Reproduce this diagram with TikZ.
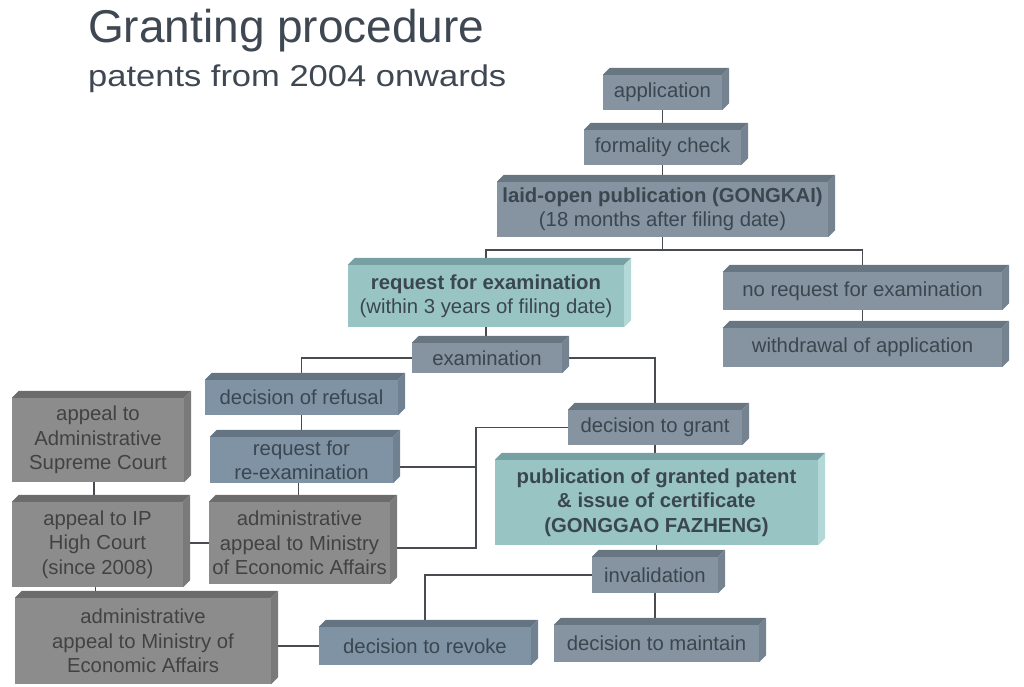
\documentclass[tikz,border=0pt]{standalone}
\usepackage{fontspec}
\setmainfont{Liberation Sans}
\usetikzlibrary{backgrounds}
\definecolor{bluefront}{RGB}{133,148,160}
\definecolor{bluetop}{RGB}{104,118,129}
\definecolor{blueside}{RGB}{116,131,143}
\definecolor{bbfront}{RGB}{128,147,165}
\definecolor{bbtop}{RGB}{100,116,131}
\definecolor{bbside}{RGB}{112,129,145}
\definecolor{tealfront}{RGB}{153,196,196}
\definecolor{tealtop}{RGB}{118,160,162}
\definecolor{tealside}{RGB}{178,216,216}
\definecolor{greyfront}{RGB}{140,140,140}
\definecolor{greytop}{RGB}{108,108,108}
\definecolor{greyside}{RGB}{122,122,122}
\definecolor{bluetext}{RGB}{58,70,80}
\definecolor{greytext}{RGB}{66,66,66}
\definecolor{titletext}{RGB}{62,71,82}
\definecolor{linecol}{RGB}{72,76,80}
\newcommand\boxfaces[2]{%
  \fill[#2top] (#1.north west) -- ++(7,-7) -- ([shift={(7,-7)}]#1.north east) -- (#1.north east) -- cycle;
  \fill[#2side] (#1.north east) -- ++(7,-7) -- ([shift={(7,-7)}]#1.south east) -- (#1.south east) -- cycle;
}
\tikzset{
  stepbox/.style={fill=#1front, inner sep=0pt, align=center, text=bluetext,
    font=\fontsize{20.3}{24.5}\selectfont},
  conn/.style={draw=linecol, line width=1.8pt},
}
\begin{document}
\begin{tikzpicture}[x=1pt,y=-1pt]
\useasboundingbox (0,0) rectangle (1024,687);
% title
\node[anchor=base west, inner sep=0pt, text=titletext, font=\fontsize{46}{50}\selectfont] (title) at (88,43) {Granting procedure};
\node[anchor=base west, inner sep=0pt, text=titletext, font=\fontsize{30}{34}\selectfont] (subtitle) at (88,87) {\scalebox{1.15}[1]{patents from 2004 onwards}};
% boxes
\node[stepbox=blue, minimum width=119, minimum height=35] (app) at (662.5,92.5) {application};
\node[stepbox=blue, minimum width=157, minimum height=35] (form) at (662.5,147.5) {formality check};
\node[stepbox=blue, minimum width=331, minimum height=55] (laid) at (662.5,209.5) {\textbf{laid-open publication (GONGKAI)}\\(18 months after filing date)};
\node[stepbox=teal, minimum width=276, minimum height=62] (req) at (486,296) {\textbf{request for examination}\\(within 3 years of filing date)};
\node[stepbox=blue, minimum width=150, minimum height=30] (exam) at (487,358) {examination};
\node[stepbox=blue, minimum width=279, minimum height=38] (norq) at (862.5,291) {no request for examination};
\node[stepbox=blue, minimum width=279, minimum height=39] (withd) at (862.5,347.5) {withdrawal of application};
\node[stepbox=bb, minimum width=193, minimum height=35] (refusal) at (301.5,397.5) {decision of refusal};
\node[stepbox=bb, minimum width=183, minimum height=46] (reexam) at (301.5,460) {request for\\re-examination};
\node[stepbox=grey, text=greytext, minimum width=181, minimum height=82] (adm1) at (299.5,543) {administrative\\appeal to Ministry\\of Economic Affairs};
\node[stepbox=grey, text=greytext, minimum width=172, minimum height=84] (supreme) at (98,440) {appeal to\\Administrative\\Supreme Court};
\node[stepbox=grey, text=greytext, minimum width=171, minimum height=85] (ipcourt) at (97.5,544.5) {appeal to IP\\High Court\\(since 2008)};
\node[stepbox=grey, text=greytext, minimum width=256, minimum height=86] (adm2) at (143,641) {administrative\\appeal to Ministry of\\Economic Affairs};
\node[stepbox=bb, minimum width=212, minimum height=38] (revoke) at (425,646) {decision to revoke};
\node[stepbox=blue, minimum width=174, minimum height=35] (grant) at (655,427.5) {decision to grant};
\node[stepbox=teal, minimum width=323, minimum height=85] (pub) at (656.5,502.5) {\textbf{publication of granted patent}\\\textbf{\& issue of certificate}\\\textbf{(GONGGAO FAZHENG)}};
\node[stepbox=blue, minimum width=126, minimum height=36] (inval) at (655,575) {invalidation};
\node[stepbox=blue, minimum width=205, minimum height=37] (maintain) at (656.5,643.5) {decision to maintain};
% 3D faces
\boxfaces{app}{blue}
\boxfaces{form}{blue}
\boxfaces{laid}{blue}
\boxfaces{req}{teal}
\boxfaces{exam}{blue}
\boxfaces{norq}{blue}
\boxfaces{withd}{blue}
\boxfaces{refusal}{bb}
\boxfaces{reexam}{bb}
\boxfaces{adm1}{grey}
\boxfaces{supreme}{grey}
\boxfaces{ipcourt}{grey}
\boxfaces{adm2}{grey}
\boxfaces{revoke}{bb}
\boxfaces{grant}{blue}
\boxfaces{pub}{teal}
\boxfaces{inval}{blue}
\boxfaces{maintain}{blue}
% connectors
\coordinate (jy) at (0,250);
\coordinate (jx) at (476,0);
\coordinate (a1e) at ([yshift=-5pt]adm1.east);
\coordinate (rxe) at ([yshift=-7pt]reexam.east);
\begin{pgfonlayer}{background}
\draw[conn] (app.south) -- (form.north);
\draw[conn] (form.south) -- (laid.north);
\draw[conn] (laid.south) -- (laid.south |- jy);
\draw[conn] (req.north) -- (req.north |- jy) -- (norq.north |- jy) -- (norq.north);
\draw[conn] (req.south) -- (req.south |- exam.north);
\draw[conn] (norq.south) -- (withd.north);
\draw[conn] (exam.west) -| (refusal.north);
\draw[conn] (exam.east) -| (grant.north);
\draw[conn] (refusal.south) -- (refusal.south |- reexam.north);
\draw[conn] ([xshift=-3pt]reexam.south) -- ([xshift=-3pt]reexam.south |- adm1.north);
\draw[conn] (grant.west) -- (grant.west -| jx) -- (jx |- a1e) -- (a1e);
\draw[conn] (rxe) -- (rxe -| jx);
\draw[conn] (adm1.west) -- (adm1.west -| ipcourt.east);
\draw[conn] ([xshift=-4pt]supreme.south) -- ([xshift=-4pt]supreme.south |- ipcourt.north);
\draw[conn] ([xshift=-2pt]ipcourt.south) -- ([xshift=-2pt]ipcourt.south |- adm2.north);
\draw[conn] (revoke.west -| adm2.east) -- (revoke.west);
\draw[conn] (inval.west) -| (revoke.north);
\draw[conn] (inval.south) -- (inval.south |- maintain.north);
\draw[conn] (grant.south) -- (grant.south |- pub.north);
\draw[conn] (pub.south) -- (pub.south |- inval.north);
\end{pgfonlayer}
\end{tikzpicture}
\end{document}
